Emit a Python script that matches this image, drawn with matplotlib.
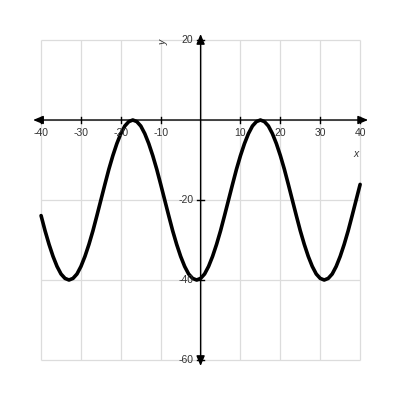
import matplotlib.pyplot as plt

# values, one per unit of x
xs = list(range(-40, 41))
ys = [-23.9, -27.7, -31.1, -34.1, -36.6, -38.5, -39.6,
      -40, -39.6, -38.5, -36.6, -34.1, -31.1, -27.7, -23.9,
      -20, -16.1, -12.3, -8.9, -5.9, -3.4, -1.5, -0.4,
      0, -0.4, -1.5, -3.4, -5.9, -8.9, -12.3, -16.1,
      -20, -23.9, -27.7, -31.1, -34.1, -36.6, -38.5, -39.6,
      -40, -39.6, -38.5, -36.6, -34.1, -31.1, -27.7, -23.9,
      -20, -16.1, -12.3, -8.9, -5.9, -3.4, -1.5, -0.4,
      0, -0.4, -1.5, -3.4, -5.9, -8.9, -12.3, -16.1,
      -20, -23.9, -27.7, -31.1, -34.1, -36.6, -38.5, -39.6,
      -40, -39.6, -38.5, -36.6, -34.1, -31.1, -27.7, -23.9,
      -20, -16.1]

x_ticks = [-40, -30, -20, -10, 10, 20, 30, 40]
y_ticks = [20, -20, -40, -60]
x_grid = [-40, -30, -20, -10, 0, 10, 20, 30, 40]
y_grid = [20, 0, -20, -40, -60]

plt.rcParams['font.family'] = ['Liberation Sans', 'DejaVu Sans']

fig = plt.figure(figsize=(4, 4), dpi=100)
ax = fig.add_axes([0, 0, 1, 1])
ax.set_xlim(-50.3, 50.0)
ax.set_ylim(-70, 30)
ax.axis('off')

#grid
ax.vlines(x_grid, -60, 20, color='#dcdcdc', lw=0.9, zorder=1)
ax.hlines(y_grid, -40, 40, color='#dcdcdc', lw=0.9, zorder=1)

#axes with arrows
arrow = dict(arrowstyle='<|-|>,head_length=0.6,head_width=0.25', color='black', lw=1.0, shrinkA=0, shrinkB=0)
ax.annotate('', xy=(-42.0, 0), xytext=(42.0, 0), arrowprops=arrow, zorder=3)
ax.annotate('', xy=(0, 21.5), xytext=(0, -61.5), arrowprops=arrow, zorder=3)

#ticks and labels
for t in x_ticks:
    ax.plot([t, t], [-0.8, 0.8], color='black', lw=1.0, zorder=3)
    ax.text(t, -2.0, str(t), ha='center', va='top', fontsize=7.5, color='#333333', zorder=4)
for t in y_ticks:
    ax.plot([-0.8, 0.8], [t, t], color='black', lw=1.0, zorder=3)
    ax.text(-1.8, t, str(t), ha='right', va='center', fontsize=7.5, color='#333333', zorder=4)

ax.text(39.0, -8.5, 'x', ha='center', va='center', fontsize=7.5, style='italic', color='#333333')
ax.text(-9.4, 19.5, 'y', ha='center', va='center', fontsize=7.5, style='italic', color='#333333', rotation=90)

#curve
ax.plot(xs, ys, color='black', lw=2.6, zorder=2, solid_capstyle='round', solid_joinstyle='round')

fig.savefig('out.png', dpi=100)
